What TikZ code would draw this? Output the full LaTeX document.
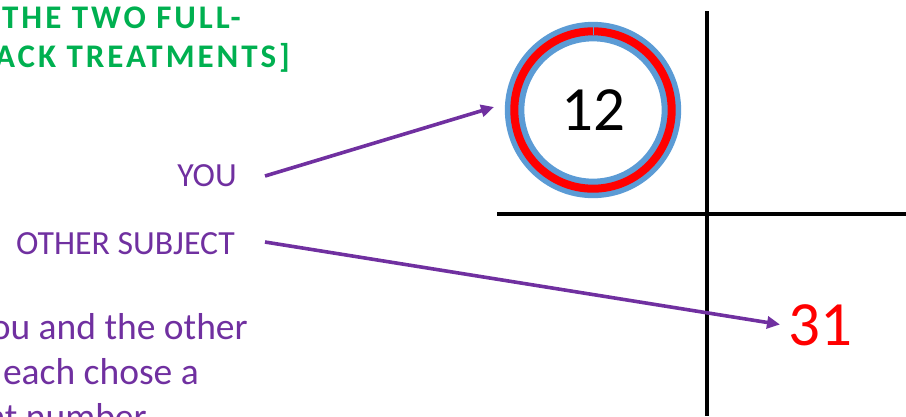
\documentclass[tikz,border=0pt]{standalone}
\usepackage{fontspec}
\setmainfont{Carlito}
\newfontfamily\titlefont[LetterSpace=9]{Carlito}
\usetikzlibrary{arrows.meta}
\definecolor{ttlgreen}{HTML}{00B050}
\definecolor{purp}{HTML}{7030A0}
\definecolor{ringblue}{HTML}{5B9BD5}
\definecolor{ringred}{HTML}{FF0000}
\tikzset{
  ttl/.style={text=ttlgreen, font=\titlefont\bfseries\fontsize{33}{38}\selectfont, inner sep=0pt},
  lbl/.style={text=purp, font=\fontsize{33.8}{40}\selectfont, inner sep=0pt},
  body/.style={text=purp, font=\fontsize{37.5}{45}\selectfont, inner sep=0pt},
  num/.style={font=\fontsize{63}{70}\selectfont, inner sep=0pt},
  arr/.style={draw=purp, line width=3.6pt, -{Triangle[length=13pt,width=12pt]}},
  axis/.style={draw=black, line width=3.8pt}
}
\begin{document}
\begin{tikzpicture}[x=1pt,y=-1pt]
\useasboundingbox (0,0) rectangle (906,416);
\clip (0,0) rectangle (906,416);
% title
\node[ttl, anchor=base west] (t1) at (2,28.5) {THE TWO FULL-};
\node[ttl, anchor=base east] (t2) at (290,67.5) {BACK TREATMENTS]};
% labels
\node[lbl, anchor=base east] (you) at (237,186.7) {YOU};
\node[lbl, anchor=base east] (oth) at (235,254) {OTHER SUBJECT};
% body
\node[body, anchor=base east] (b1) at (248,339) {You and the other};
\node[body, anchor=base east] (b2) at (199,384) {each chose a};
\node[body, anchor=base east] (b3) at (147,429) {different number};
% axes
\coordinate (vtop) at (707,11);
\coordinate (vbot) at (707,416);
\coordinate (hl) at (497,214);
\coordinate (hr) at (906,214);
\draw[axis] (vtop) -- (vbot);
\draw[axis] (hl) -- (hr);
% circle
\node[num, text=black] (c12) at (593,110) {12};
\draw[ringblue, line width=19.5pt] (c12.center) circle[radius=78.4];
\draw[ringred, line width=8pt] (c12.center) circle[radius=78.7];
\draw[ringblue, line width=0.9pt] (593,27) -- (593,35);
% other number
\node[num, text=ringred] (n31) at (820,325) {31};
% arrows
\coordinate (ys) at (265,176);
\coordinate (ye) at (494,107);
\coordinate (os) at (265,242);
\coordinate (oe) at (780,324.5);
\draw[arr] (ys) -- (ye);
\draw[arr] (os) -- (oe);
\end{tikzpicture}
\end{document}
